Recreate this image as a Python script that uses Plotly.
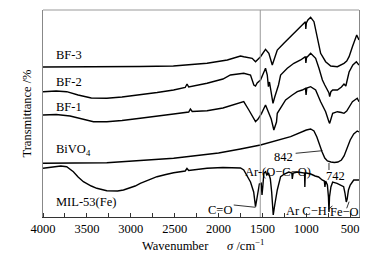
import plotly.graph_objects as go

# ---- data (wavenumber cm^-1, transmittance a.u.) ----
bf3_wn = [4000, 3600, 3273, 2900, 2515, 2131, 1900, 1827, 1750, 1713, 1660, 1617, 1579, 1550, 1522,
          1465, 1427, 1388, 1331, 1256, 1179, 1103, 1046, 1020, 1010, 1006, 1000, 982, 951, 913, 874,
          837, 780, 742, 722, 646, 571, 540, 513, 475, 426, 400]
bf3_t = [150, 150, 150, 150.5, 151, 153.7, 157, 158.7, 161, 160.3, 159, 158.7, 155.3, 158, 160.3,
         167.7, 163.7, 152, 167, 173.7, 180.3, 186.3, 192, 194, 195.3, 188, 194, 197, 199.7, 195.3, 178.7,
         163.7, 155.3, 152, 151, 150.3, 153.7, 156, 160.3, 170.3, 182, 177]

bf2_wn = [4000, 3850, 3730, 3600, 3450, 3387, 3273, 3100, 2892, 2700, 2512, 2380, 2359, 2340, 2131,
          1950, 1865, 1750, 1713, 1636, 1598, 1579, 1560, 1522, 1500, 1465, 1445, 1432, 1420, 1405,
          1380, 1360, 1317, 1293, 1217, 1142, 1065, 1010, 1005, 997, 990, 951, 894, 856, 817, 790,
          760, 742, 734, 720, 700, 646, 600, 571, 550, 530, 513, 470, 430, 400]
bf2_t = [125.3, 126, 125.3, 122, 119, 118.7, 118.7, 120, 122, 124.5, 127, 129.5, 133, 130, 133.7,
         138, 142, 143.7, 143.7, 142, 132, 131, 134, 137, 142, 148.7, 142, 130.3, 135, 128,
         113.7, 120, 132, 142, 148.7, 153.7, 157, 160.3, 154, 160, 160, 163.7, 158.7, 148.7, 137, 132,
         127, 124, 120.3, 125.3, 127, 127, 130, 133, 131, 138, 145, 152, 155.3, 152]

bf1_wn = [4000, 3850, 3692, 3550, 3425, 3273, 3100, 2892, 2700, 2512, 2340, 2321, 2300, 2131, 1950,
          1750, 1713, 1655, 1579, 1550, 1510, 1465, 1427, 1400, 1370, 1340, 1331, 1236, 1160, 1103,
          1046, 1010, 1003, 995, 951, 894, 837, 780, 742, 734, 700, 646, 600, 571, 540, 475, 420, 400]
bf1_t = [102, 102.5, 101, 98, 95.3, 95.3, 96.5, 98.7, 100.5, 103, 105, 108, 105.5, 106.3, 109,
         113.7, 115.3, 107, 95.3, 98, 103.7, 112, 103.7, 98, 87, 95, 103.7, 117, 122, 125.3,
         127, 128.7, 122, 129, 130.3, 127, 115.3, 105.3, 95, 93.7, 103.7, 105.3, 104.5, 103.7, 106,
         115.3, 118.7, 115.3]

bivo4_wn = [4000, 3273, 2512, 2000, 1750, 1522, 1179, 1000, 951, 913, 880, 850, 820, 790, 760, 720,
            680, 640, 600, 570, 540, 500, 460, 420, 400]
bivo4_t = [53.7, 54.3, 58.7, 64, 68, 72, 80.3, 87, 88, 86, 80, 72, 65, 59, 56, 55,
           54.5, 55, 57, 61, 68, 77, 83, 86, 85]

mil_wn = [4000, 3900, 3797, 3730, 3654, 3600, 3540, 3450, 3387, 3273, 3150, 3083, 2950, 2892, 2800,
          2702, 2600, 2512, 2380, 2360, 2340, 2131, 1950, 1865, 1750, 1713, 1670, 1636, 1600, 1579,
          1560, 1535, 1514, 1505, 1496, 1490, 1484, 1465, 1450, 1430, 1410, 1395, 1377, 1360, 1331,
          1293, 1250, 1200, 1165, 1160, 1150, 1100, 1050, 1020, 1017, 1012, 1000, 950, 900, 860, 820,
          795, 788, 780, 760, 748, 742, 736, 720, 700, 650, 600, 575, 560, 545, 535, 520, 500, 460, 400]
mil_t = [48.7, 49.5, 51, 50.3, 45.3, 40, 35.3, 31, 28.7, 26.3, 26, 27, 31, 33.7, 37,
         40.3, 42.5, 44.3, 46, 48.5, 46.5, 48.7, 49.5, 49.5, 49, 47, 41, 35, 25, 10.3,
         20, 33, 33.7, 22, 30.3, 38, 43.7, 45.3, 42, 44, 38, 25, 2, 12, 27,
         40.3, 43, 45, 44, 38, 44, 45, 44.5, 44, 30, 44, 44, 43, 41, 40, 37,
         36, 30, 36, 32, 20, 5, 20, 30, 35, 33.7, 31, 30.3, 24, 15, 18, 27, 32, 37, 37]

series = [("BF-3", bf3_wn, bf3_t), ("BF-2", bf2_wn, bf2_t), ("BF-1", bf1_wn, bf1_t),
          ("BiVO4", bivo4_wn, bivo4_t), ("MIL-53(Fe)", mil_wn, mil_t)]

label_text = ["BF-3", "BF-2", "BF-1", "BiVO<sub>4</sub>", "MIL-53(Fe)"]
label_y = [162, 135.3, 109.7, 67, 15.3]
label_x = 3871
marker_wn = 1525

FONT = "Liberation Serif"

fig = go.Figure()
for name, wn, t in series:
    fig.add_trace(go.Scatter(x=wn, y=t, mode="lines", name=name,
                             line=dict(color="black", width=1.4), showlegend=False))

# vertical reference line
fig.add_shape(type="line", xref="x", yref="paper", x0=marker_wn, x1=marker_wn, y0=0, y1=1,
              line=dict(color="#999999", width=1))
# top border
fig.add_shape(type="line", xref="paper", yref="paper", x0=0, x1=1, y0=1, y1=1,
              line=dict(color="#999999", width=1))

for txt, y in zip(label_text, label_y):
    fig.add_annotation(x=label_x, y=y, text=txt, showarrow=False, xanchor="left", yanchor="middle",
                       font=dict(family=FONT, size=12.5, color="black"))

# peak annotations
peak_notes = [("C=O", 1979, 7), ("Ar-(O−C−O)", 1322, 45.3), ("842", 1263, 60.3),
              ("742", 673, 41.3), ("Ar C−H", 997, 6.3), ("Fe−O", 563, 4.7)]
for txt, x, y in peak_notes:
    fig.add_annotation(x=x, y=y, text=txt, showarrow=False, xanchor="center", yanchor="middle",
                       font=dict(family=FONT, size=12.5, color="black"))

pointer_lines = [((1827, 12), (1579, 9.7)), ((1122, 63.7), (817, 66.3)), ((742, 54), (742, 47)),
                 ((753, 7.7), (703, 11)), ((540, 8.7), (513, 15.3))]
for (xa, ya), (xb, yb) in pointer_lines:
    fig.add_shape(type="line", xref="x", yref="y", x0=xa, y0=ya, x1=xb, y1=yb,
                  line=dict(color="black", width=0.8))

# x-axis title, placed tight under the tick labels as in the reference
fig.add_annotation(xref="paper", yref="paper", x=0.505, y=-28 / 207, xanchor="center", yanchor="middle",
                   text="Wavenumber\u00a0\u00a0\u00a0\u00a0\u00a0\u00a0<i>σ</i> /cm<sup>−1</sup>",
                   showarrow=False, font=dict(family=FONT, size=12.5, color="black"))

# the page body has an 8px default margin, so the figure is made 8px smaller
fig.update_layout(
    width=365, height=253,
    margin=dict(l=35, r=14, t=2, b=44),
    plot_bgcolor="white", paper_bgcolor="white",
    font=dict(family=FONT, size=12.5, color="black"),
    xaxis=dict(range=[4000, 400], tickvals=[4000, 3500, 3000, 2500, 2000, 1500, 1000, 500],
               ticks="", showgrid=False, zeroline=False, showline=True, linecolor="#333",
               linewidth=1, tickfont=dict(family=FONT, size=12.5),
               minor=dict(dtick=250, tick0=0, ticks="inside", ticklen=4, tickcolor="#333", showgrid=False)),
    yaxis=dict(range=[0, 207], showticklabels=False, ticks="", showgrid=False, zeroline=False,
               showline=True, linecolor="#888", linewidth=1, mirror=True,
               title=dict(text="Transmittance /%", font=dict(family=FONT, size=12.5), standoff=7)),
)

fig.write_html("out.html")
